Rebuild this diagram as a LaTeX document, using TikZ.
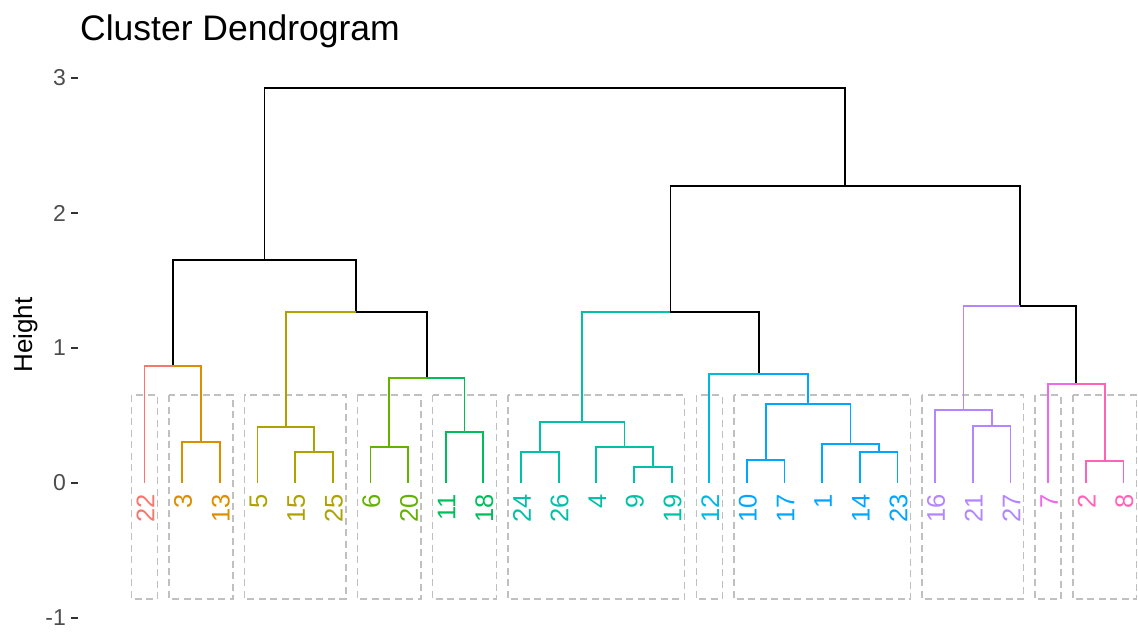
\documentclass[tikz,border=0pt]{standalone}
\usepackage{fontspec}
\setmainfont{Liberation Sans}
\definecolor{cR}{HTML}{F8766D}
\definecolor{cO}{HTML}{DB8E00}
\definecolor{cOl}{HTML}{AEA200}
\definecolor{cYG}{HTML}{64B200}
\definecolor{cG}{HTML}{00BD5C}
\definecolor{cT}{HTML}{00C1A7}
\definecolor{cC}{HTML}{00BADE}
\definecolor{cB}{HTML}{00A6FF}
\definecolor{cP}{HTML}{B385FF}
\definecolor{cM}{HTML}{EF67EB}
\definecolor{cPk}{HTML}{FF63B6}
\definecolor{boxgray}{HTML}{C0C0C0}
\definecolor{axgray}{HTML}{4D4D4D}
\definecolor{tickgray}{HTML}{333333}
\begin{document}
\begin{tikzpicture}[x=1pt,y=-1pt,
  edge/.style={line width=1.8pt},
  rbox/.style={draw=boxgray, dash pattern=on 7pt off 4.5pt, line width=1.5pt},
  leaf/.style={rotate=90, anchor=east, inner sep=0pt, font=\fontsize{25.5}{25.5}\selectfont},
  ticklab/.style={anchor=east, inner sep=0pt, text=axgray, font=\fontsize{23}{23}\selectfont},
  tickmark/.style={draw=tickgray, line width=1.4pt}]
\useasboundingbox (0,0) rectangle (1138,632);

% title and axis
\node[anchor=base west, inner sep=0pt, font=\fontsize{35.5}{35.5}\selectfont] (title) at (80,40) {Cluster Dendrogram};
\node[rotate=90, anchor=base, inner sep=0pt, font=\fontsize{26}{26}\selectfont] (ytitle) at (32,335) {Height};
\foreach \v/\nm in {3/a,2/b,1/c,0/d,-1/e} {
  \node[ticklab] (ylab\nm) at (66,{483-135*\v}) {\v};
  \draw[tickmark] (71,{483-135*\v}) -- (78,{483-135*\v});
}

% leaves
\foreach \i/\lab/\c in {0/22/cR, 1/3/cO, 2/13/cO, 3/5/cOl, 4/15/cOl, 5/25/cOl, 6/6/cYG, 7/20/cYG, 8/11/cG, 9/18/cG, 10/24/cT, 11/26/cT, 12/4/cT, 13/9/cT, 14/19/cT, 15/12/cC, 16/10/cB, 17/17/cB, 18/1/cB, 19/14/cB, 20/23/cB, 21/16/cP, 22/21/cP, 23/27/cP, 24/7/cM, 25/2/cPk, 26/8/cPk} {
  \coordinate (L\lab) at ({144.5+37.65*\i},483);
  \node[leaf, text=\c] (t\lab) at ({145.5+37.65*\i},494) {\lab};
}

% internal merge points
\coordinate (Na) at (201,442);
\coordinate (Nb) at (172.75,366);
\coordinate (Nc) at (313.95,452);
\coordinate (Nd) at (285.7,427);
\coordinate (Ne) at (389.25,447);
\coordinate (Nf) at (464.55,432);
\coordinate (Ng) at (426.9,378);
\coordinate (Nh) at (356.3,312);
\coordinate (Ni) at (264.5,260);
\coordinate (Nj) at (539.85,452);
\coordinate (Nk) at (652.8,467);
\coordinate (Nl) at (624.55,447);
\coordinate (Nm) at (582.2,422);
\coordinate (Nn) at (765.75,460);
\coordinate (No) at (878.7,452);
\coordinate (Np) at (850.45,444);
\coordinate (Nq) at (808.1,404);
\coordinate (Nr) at (758.7,374);
\coordinate (Ns) at (670.45,312);
\coordinate (Nt) at (991.65,426);
\coordinate (Nu) at (963.4,410);
\coordinate (Nv) at (1104.6,461);
\coordinate (Nw) at (1076.35,384);
\coordinate (Nx) at (1019.9,306);
\coordinate (Ny) at (845.2,186);
\coordinate (Nz) at (554.85,88);

% cluster boxes
\foreach \a/\b in {0/0,1/2,3/5,6/7,8/9,10/14,15/15,16/20,21/23,24/24,25/26}
  \draw[rbox] ({144.5+37.65*\a-13},395) rectangle ({144.5+37.65*\b+13},599);

% branches above clusters
\draw[edge, black] (Nz) -| (Ni);
\draw[edge, black] (Nz) -| (Ny);
\draw[edge, black] (Ni) -| (Nb);
\draw[edge, black] (Ni) -| (Nh);
\draw[edge, black] (Nh) -| (Ng);
\draw[edge, black] (Ny) -| (Ns);
\draw[edge, black] (Ny) -| (Nx);
\draw[edge, black] (Ns) -| (Nr);
\draw[edge, black] (Nx) -| (Nw);

% red / orange
\draw[edge, cR] (Nb) -| (L22);
\draw[edge, cO] (Nb) -| (Na);
\draw[edge, cO] (Na) -| (L3);
\draw[edge, cO] (Na) -| (L13);
% olive
\draw[edge, cOl] (Nh) -| (Nd);
\draw[edge, cOl] (Nd) -| (L5);
\draw[edge, cOl] (Nd) -| (Nc);
\draw[edge, cOl] (Nc) -| (L15);
\draw[edge, cOl] (Nc) -| (L25);
% yellow-green / green
\draw[edge, cYG] (Ng) -| (Ne);
\draw[edge, cYG] (Ne) -| (L6);
\draw[edge, cYG] (Ne) -| (L20);
\draw[edge, cG] (Ng) -| (Nf);
\draw[edge, cG] (Nf) -| (L11);
\draw[edge, cG] (Nf) -| (L18);
% teal
\draw[edge, cT] (Ns) -| (Nm);
\draw[edge, cT] (Nm) -| (Nj);
\draw[edge, cT] (Nj) -| (L24);
\draw[edge, cT] (Nj) -| (L26);
\draw[edge, cT] (Nm) -| (Nl);
\draw[edge, cT] (Nl) -| (L4);
\draw[edge, cT] (Nl) -| (Nk);
\draw[edge, cT] (Nk) -| (L9);
\draw[edge, cT] (Nk) -| (L19);
% cyan / blue
\draw[edge, cC] (Nr) -| (L12);
\draw[edge, cB] (Nr) -| (Nq);
\draw[edge, cB] (Nq) -| (Nn);
\draw[edge, cB] (Nn) -| (L10);
\draw[edge, cB] (Nn) -| (L17);
\draw[edge, cB] (Nq) -| (Np);
\draw[edge, cB] (Np) -| (L1);
\draw[edge, cB] (Np) -| (No);
\draw[edge, cB] (No) -| (L14);
\draw[edge, cB] (No) -| (L23);
% purple
\draw[edge, cP] (Nx) -| (Nu);
\draw[edge, cP] (Nu) -| (L16);
\draw[edge, cP] (Nu) -| (Nt);
\draw[edge, cP] (Nt) -| (L21);
\draw[edge, cP] (Nt) -| (L27);
% magenta / pink
\draw[edge, cM] (Nw) -| (L7);
\draw[edge, cPk] (Nw) -| (Nv);
\draw[edge, cPk] (Nv) -| (L2);
\draw[edge, cPk] (Nv) -| (L8);
\end{tikzpicture}
\end{document}
